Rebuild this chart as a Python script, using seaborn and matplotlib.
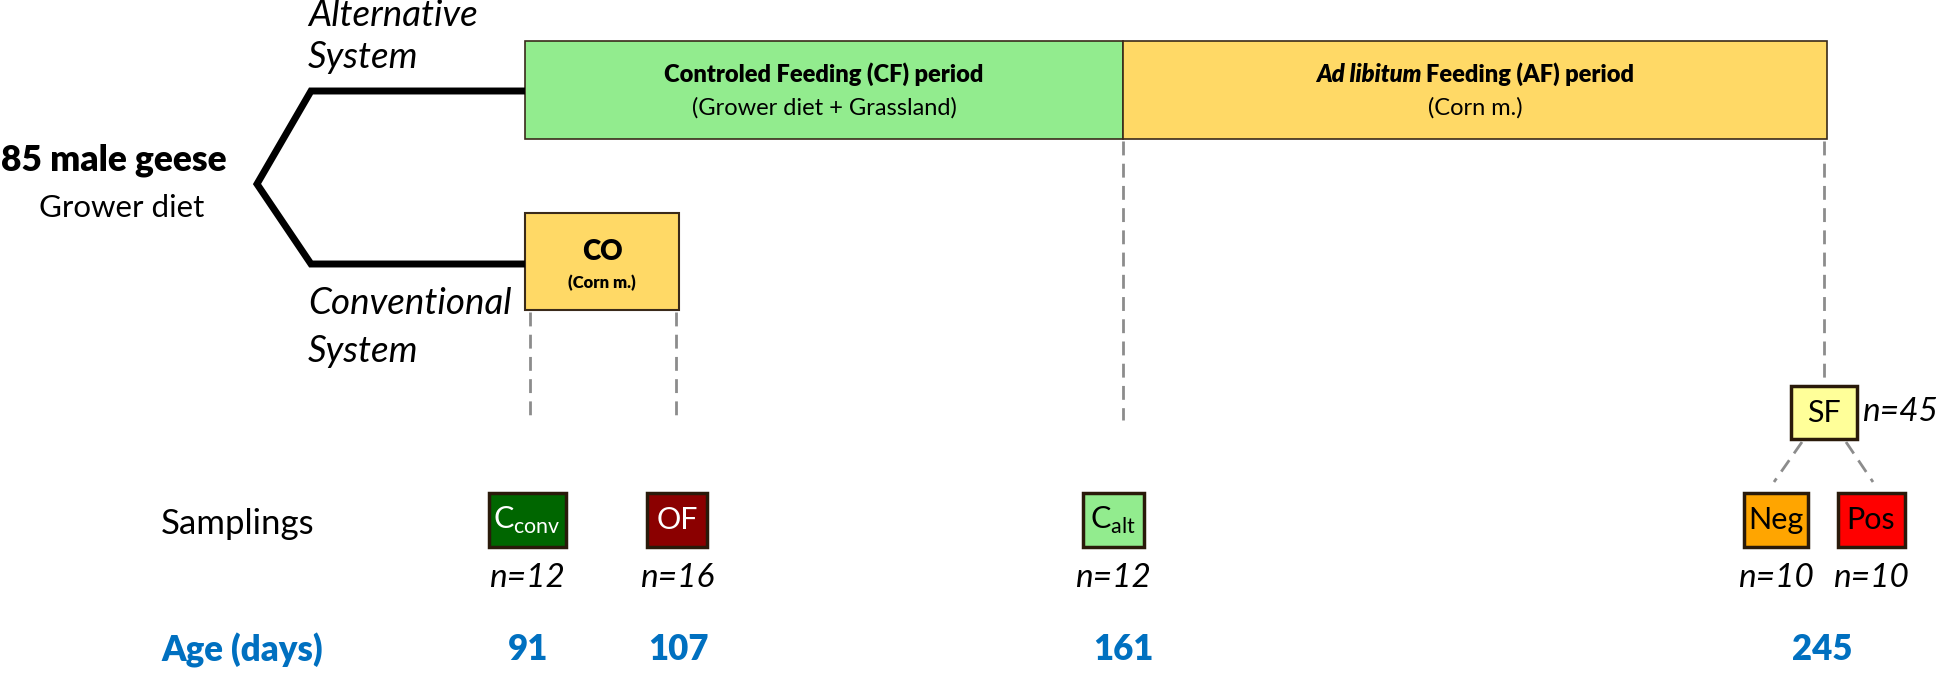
import numpy as np
import matplotlib
matplotlib.use("Agg")
import matplotlib.pyplot as plt
from matplotlib.patches import Rectangle
import seaborn as sns

# --- data ---
periods = ["Controled Feeding (CF) period", "Ad libitum Feeding (AF) period"]
period_diets = ["(Grower diet + Grassland)", "(Corn m.)"]
period_colors = ["#92ec8e", "#ffd966"]

sample_names = ["C_conv", "OF", "C_alt", "Neg", "Pos"]
sample_n = [12, 16, 12, 10, 10]
sample_colors = ["#006600", "#8b0000", "#92ec8e", "#ffa500", "#ff0000"]
sample_text_colors = ["white", "white", "black", "black", "black"]
age_days = [91, 107, 161, 245]
sf_n = 45

# --- layout (pixel coords) ---
W, H = 1946, 673
sample_x = [527, 677, 1113, 1776, 1871]
sample_w = [77, 60, 61, 64, 67]
age_x = [528, 678, 1123, 1822]
row_box_top, row_box_bot = 493, 547
row_n, row_age = 578, 650

sns.set_theme(style="white")
plt.rcParams["font.family"] = ["Lato", "DejaVu Sans"]
plt.rcParams["text.color"] = "black"

fig = plt.figure(figsize=(W / 100, H / 100), dpi=100)
ax = fig.add_axes([0, 0, 1, 1])
ax.set_xlim(0, W)
ax.set_ylim(H, 0)
ax.axis("off")

# branch lines
ax.plot([525, 311, 257, 311, 525], [91, 91, 184, 264, 264], color="black",
        lw=5, solid_joinstyle="miter", solid_capstyle="butt")

ax.text(114, 160, "85 male geese", fontsize=25.5, fontweight="heavy", ha="center", va="center")
ax.text(122, 208, "Grower diet", fontsize=22.5, ha="center", va="center")
for y, s in [(15, "Alternative"), (57, "System"), (304, "Conventional"), (351, "System")]:
    ax.text(308, y, s, fontsize=26.5, style="italic", ha="left", va="center")

# period bars
bounds = [525, 1123, 1827]
for i in range(2):
    ax.add_patch(Rectangle((bounds[i], 41), bounds[i + 1] - bounds[i], 98,
                           facecolor=period_colors[i], edgecolor="#3a2a1a", lw=1.2))
cx0 = (bounds[0] + bounds[1]) / 2
ax.text(cx0, 74, periods[0], fontsize=17, fontweight="heavy", ha="center", va="center")
ax.text(cx0, 108, period_diets[0], fontsize=17, ha="center", va="center")
cx1 = (bounds[1] + bounds[2]) / 2
fig.canvas.draw()
r = fig.canvas.get_renderer()
t1 = ax.text(0, 74, "Ad libitum ", fontsize=17, fontweight="heavy", style="italic", va="center")
t2 = ax.text(0, 74, "Feeding (AF) period", fontsize=17, fontweight="heavy", va="center")
w1 = t1.get_window_extent(r).width
w2 = t2.get_window_extent(r).width
x_start = cx1 - (w1 + w2) / 2
t1.set_x(x_start)
t2.set_x(x_start + w1)
ax.text(cx1, 108, period_diets[1], fontsize=17, ha="center", va="center")

# CO box
ax.add_patch(Rectangle((525, 213), 154, 97, facecolor="#ffd966", edgecolor="#3a2a1a", lw=1.5))
ax.text(602, 252, "CO", fontsize=20, fontweight="heavy", ha="center", va="center")
ax.text(602, 283, "(Corn m.)", fontsize=12, fontweight="heavy", ha="center", va="center")

# dashed guides
dash = dict(color="#8c8c8c", lw=2, linestyle=(0, (5, 3)))
ax.plot([530, 530], [312, 420], **dash)
ax.plot([676, 676], [312, 420], **dash)
ax.plot([1123, 1123], [141, 420], **dash)
ax.plot([1824, 1824], [141, 385], **dash)
ax.plot([1802, 1774], [442, 482], **dash)
ax.plot([1846, 1873], [442, 482], **dash)

# SF box
ax.add_patch(Rectangle((1791, 386), 66, 53, facecolor="#ffff99", edgecolor="#2a1a0a", lw=2.5))
ax.text(1824, 413, "SF", fontsize=22, ha="center", va="center")
ax.text(1862, 412, f"n={sf_n}", fontsize=24, style="italic", ha="left", va="center")

# sampling boxes
labels = [r"C$_{\mathregular{conv}}$", "OF", r"C$_{\mathregular{alt}}$", "Neg", "Pos"]
for i, name in enumerate(sample_names):
    x0 = sample_x[i] - sample_w[i] / 2
    ax.add_patch(Rectangle((x0, row_box_top), sample_w[i], row_box_bot - row_box_top,
                           facecolor=sample_colors[i], edgecolor="#2a1a0a", lw=2.5))
    ax.text(sample_x[i], 520, labels[i], fontsize=22, color=sample_text_colors[i],
            ha="center", va="center")
    ax.text(sample_x[i], row_n, f"n={sample_n[i]}", fontsize=24, style="italic",
            ha="center", va="center")

ax.text(161, 524, "Samplings", fontsize=25, ha="left", va="center")
ax.text(161, 650, "Age (days)", fontsize=25, fontweight="heavy", color="#0070c0",
        ha="left", va="center")
for x, a in zip(age_x, age_days):
    ax.text(x, row_age, str(a), fontsize=25, fontweight="heavy", color="#0070c0",
            ha="center", va="center")

fig.savefig("out.png", dpi=100, facecolor="white")
